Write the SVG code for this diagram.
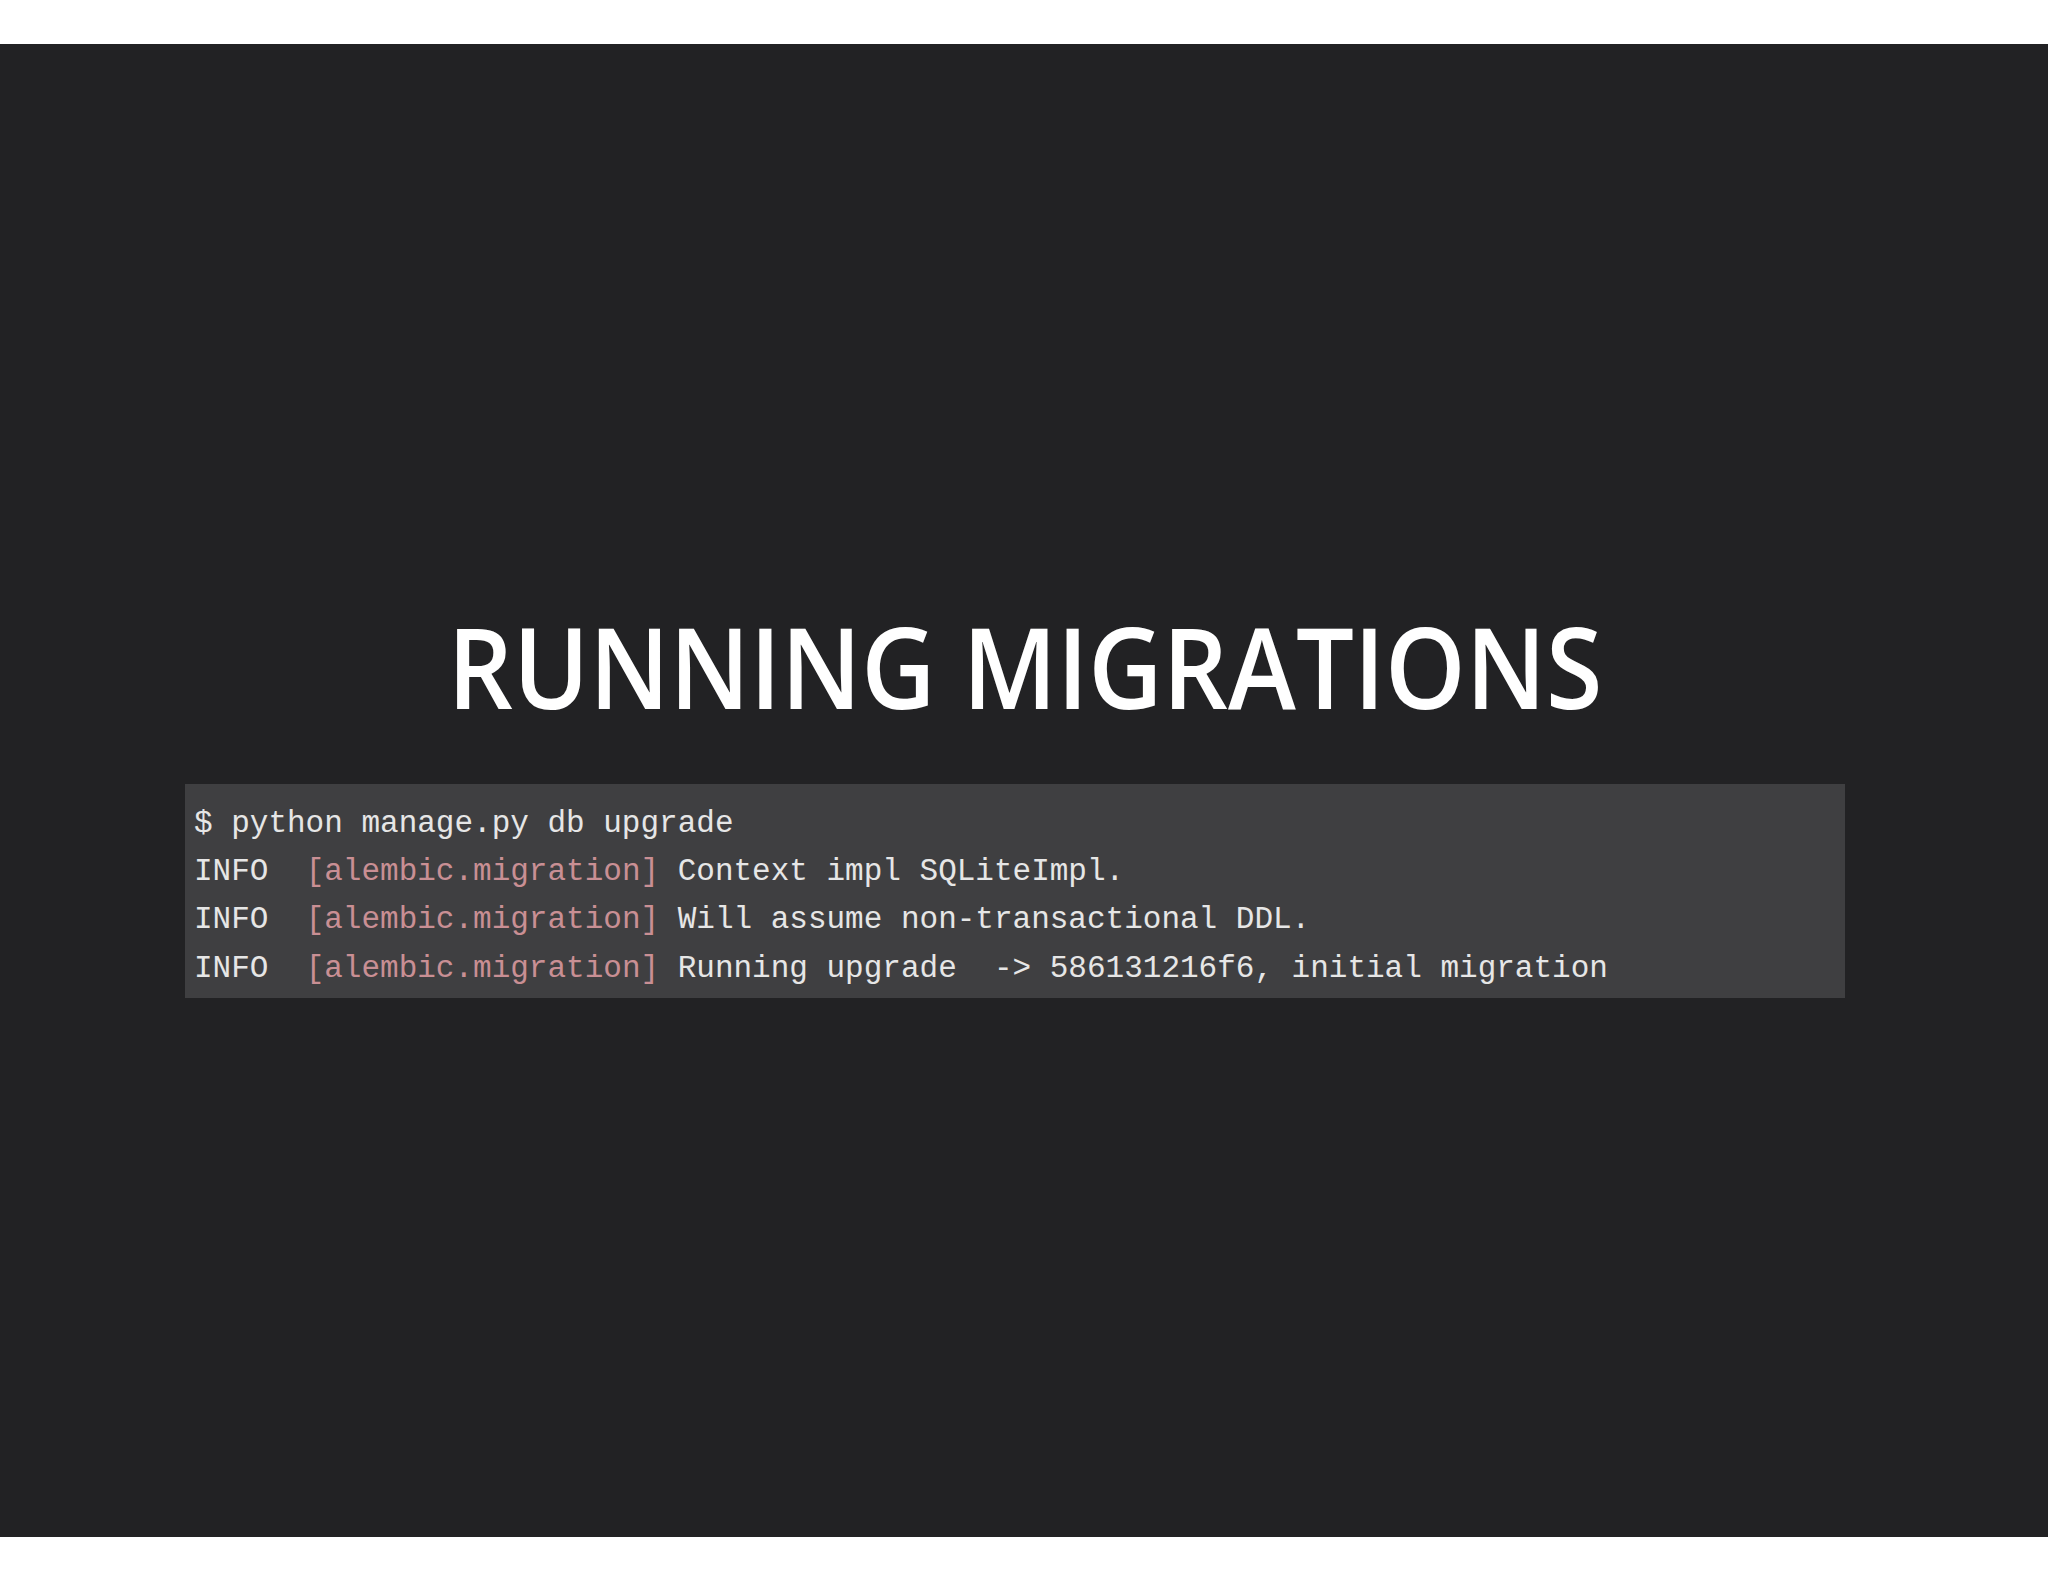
<svg xmlns="http://www.w3.org/2000/svg" width="2048" height="1582" viewBox="0 0 2048 1582">
<style>
.c{font-family:"Liberation Mono","Courier New",monospace;font-size:31px;fill:#e6e6e6;white-space:pre}
.p{fill:#c98f94}
</style>
<defs><clipPath id="cb"><rect x="185" y="784" width="1660" height="214"/></clipPath></defs>
<rect width="2048" height="1582" fill="#ffffff"/>
<rect x="0" y="44" width="2048" height="1493" fill="#222224"/>
<g id="title"><text x="1025" y="709" text-anchor="middle" font-family="Open Sans, Noto Sans, sans-serif" font-weight="600" font-size="112" fill="#ffffff" textLength="1155" lengthAdjust="spacingAndGlyphs">RUNNING MIGRATIONS</text></g>
<g id="code">
<rect x="185" y="784" width="1660" height="214" fill="#3f3f41"/>
<g clip-path="url(#cb)">
<text class="c" x="194" y="832" xml:space="preserve">$ python manage.py db upgrade</text>
<text class="c" x="194" y="880" xml:space="preserve">INFO  <tspan class="p">[alembic.migration]</tspan> Context impl SQLiteImpl.</text>
<text class="c" x="194" y="928" xml:space="preserve">INFO  <tspan class="p">[alembic.migration]</tspan> Will assume non-transactional DDL.</text>
<text class="c" x="194" y="977" xml:space="preserve">INFO  <tspan class="p">[alembic.migration]</tspan> Running upgrade  -&gt; 586131216f6, initial migration</text>
</g>
</g>
</svg>
